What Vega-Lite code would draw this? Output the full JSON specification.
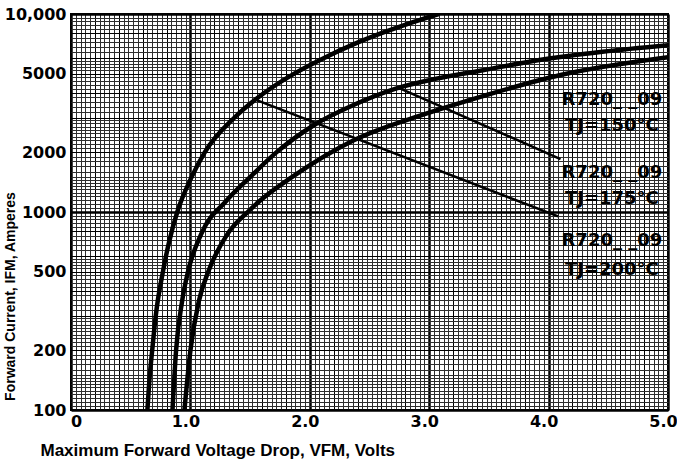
{
  "$schema": "https://vega.github.io/schema/vega-lite/v6.json",
  "width": 597,
  "height": 396,
  "autosize": {"type": "none"},
  "padding": {"left": 71, "right": 9, "top": 14, "bottom": 58},
  "background": "white",
  "config": {"view": {"stroke": "black", "strokeWidth": 2}},
  "datasets": {
    "curves": [
      {"s": "A", "V": 0.64, "I": 100}, {"s": "A", "V": 0.66, "I": 150}, {"s": "A", "V": 0.68, "I": 200}, {"s": "A", "V": 0.71, "I": 300}, {"s": "A", "V": 0.77, "I": 500}, {"s": "A", "V": 0.82, "I": 700}, {"s": "A", "V": 0.89, "I": 1000}, {"s": "A", "V": 1.01, "I": 1500}, {"s": "A", "V": 1.12, "I": 2000}, {"s": "A", "V": 1.37, "I": 3000}, {"s": "A", "V": 1.62, "I": 4000}, {"s": "A", "V": 1.87, "I": 5000}, {"s": "A", "V": 2.12, "I": 6000}, {"s": "A", "V": 2.36, "I": 7000}, {"s": "A", "V": 2.6, "I": 8000}, {"s": "A", "V": 2.84, "I": 9000}, {"s": "A", "V": 3.08, "I": 10000},
      {"s": "B", "V": 0.85, "I": 100}, {"s": "B", "V": 0.88, "I": 200}, {"s": "B", "V": 0.93, "I": 353}, {"s": "B", "V": 0.98, "I": 500}, {"s": "B", "V": 1.09, "I": 773}, {"s": "B", "V": 1.3, "I": 1137}, {"s": "B", "V": 1.5, "I": 1500}, {"s": "B", "V": 1.72, "I": 2000}, {"s": "B", "V": 2.03, "I": 2735}, {"s": "B", "V": 2.38, "I": 3500}, {"s": "B", "V": 2.72, "I": 4200}, {"s": "B", "V": 3.05, "I": 4700}, {"s": "B", "V": 3.45, "I": 5200}, {"s": "B", "V": 3.91, "I": 5840}, {"s": "B", "V": 4.45, "I": 6450}, {"s": "B", "V": 5.0, "I": 6960},
      {"s": "C", "V": 0.95, "I": 100}, {"s": "C", "V": 1.0, "I": 200}, {"s": "C", "V": 1.07, "I": 353}, {"s": "C", "V": 1.15, "I": 500}, {"s": "C", "V": 1.31, "I": 773}, {"s": "C", "V": 1.48, "I": 1000}, {"s": "C", "V": 1.58, "I": 1137}, {"s": "C", "V": 1.85, "I": 1500}, {"s": "C", "V": 2.36, "I": 2290}, {"s": "C", "V": 2.98, "I": 3145}, {"s": "C", "V": 3.45, "I": 3850}, {"s": "C", "V": 4.1, "I": 4920}, {"s": "C", "V": 5.0, "I": 6050}
    ],
    "leaders": [
      {"id": "L1", "V": 1.56, "I": 3660}, {"id": "L1", "V": 4.08, "I": 950},
      {"id": "L2", "V": 2.74, "I": 4250}, {"id": "L2", "V": 4.1, "I": 1850}
    ],
    "labels": [
      {"t": "R720_ _09", "V": 4.53, "I": 3660},
      {"t": "TJ=150°C", "V": 4.53, "I": 2730},
      {"t": "R720_ _09", "V": 4.53, "I": 1580},
      {"t": "TJ=175°C", "V": 4.53, "I": 1165},
      {"t": "R720_ _09", "V": 4.53, "I": 710},
      {"t": "TJ=200°C", "V": 4.53, "I": 512}
    ]
  },
  "encoding": {
    "x": {
      "field": "V", "type": "quantitative",
      "scale": {"domain": [0, 5], "nice": false, "zero": false},
      "axis": {
        "values": [0,0.04,0.08,0.12,0.16,0.2,0.24,0.28,0.32,0.36,0.4,0.44,0.48,0.52,0.56,0.6,0.64,0.68,0.72,0.76,0.8,0.84,0.88,0.92,0.96,1,1.04,1.08,1.12,1.16,1.2,1.24,1.28,1.32,1.36,1.4,1.44,1.48,1.52,1.56,1.6,1.64,1.68,1.72,1.76,1.8,1.84,1.88,1.92,1.96,2,2.04,2.08,2.12,2.16,2.2,2.24,2.28,2.32,2.36,2.4,2.44,2.48,2.52,2.56,2.6,2.64,2.68,2.72,2.76,2.8,2.84,2.88,2.92,2.96,3,3.04,3.08,3.12,3.16,3.2,3.24,3.28,3.32,3.36,3.4,3.44,3.48,3.52,3.56,3.6,3.64,3.68,3.72,3.76,3.8,3.84,3.88,3.92,3.96,4,4.04,4.08,4.12,4.16,4.2,4.24,4.28,4.32,4.36,4.4,4.44,4.48,4.52,4.56,4.6,4.64,4.68,4.72,4.76,4.8,4.84,4.88,4.92,4.96,5],
        "labelExpr": "abs(datum.value - round(datum.value)) < 0.001 ? (datum.value == 0 ? '0' : format(datum.value, '.1f')) : ''",
        "labelFont": "DejaVu Sans", "labelFontWeight": "bold", "labelFontSize": 16, "labelColor": "black",
        "labelPadding": 3, "labelOverlap": false, "labelBound": false, "labelFlush": false,
        "labelOffset": {"condition": {"test": "datum.value == 0", "value": 5}, "value": -5},
        "ticks": false, "domain": false,
        "grid": true,
        "gridColor": {"condition": {"test": "abs(datum.value*5 - round(datum.value*5)) < 0.001", "value": "#000000"}, "value": "#2e2e2e"},
        "gridWidth": {"condition": {"test": "abs(datum.value - round(datum.value)) < 0.001", "value": 2.5}, "value": 1},
        "gridOpacity": 1,
        "title": "Maximum Forward Voltage Drop, VFM, Volts",
        "titleFont": "Liberation Sans", "titleFontWeight": "bold", "titleFontSize": 17, "titleColor": "black",
        "titleAnchor": null, "titleAlign": "left", "titleBaseline": "alphabetic",
        "titleX": -31, "titleY": 45
      }
    },
    "y": {
      "field": "I", "type": "quantitative",
      "scale": {"type": "log", "domain": [100, 10000], "nice": false},
      "axis": {
        "values": [100,105,110,115,120,125,130,135,140,145,150,160,170,180,190,200,210,220,230,240,250,260,270,280,290,300,320,340,360,380,400,420,440,460,480,500,520,540,560,580,600,640,680,720,760,800,840,880,920,960,1000,1050,1100,1150,1200,1250,1300,1350,1400,1450,1500,1600,1700,1800,1900,2000,2100,2200,2300,2400,2500,2600,2700,2800,2900,3000,3200,3400,3600,3800,4000,4200,4400,4600,4800,5000,5200,5400,5600,5800,6000,6400,6800,7200,7600,8000,8400,8800,9200,9600,10000],
        "labelExpr": "indexof([100,200,500,1000,2000,5000,10000], datum.value) >= 0 ? (datum.value == 10000 ? '10,000' : format(datum.value, 'd')) : ''",
        "labelFont": "DejaVu Sans", "labelFontWeight": "bold", "labelFontSize": 16, "labelColor": "black",
        "labelPadding": 5, "labelOverlap": false, "labelBound": false, "labelFlush": false,
        "ticks": false, "domain": false,
        "grid": true,
        "gridColor": {"condition": {"test": "datum.value % (datum.value >= 1000 ? 1000 : 100) == 0", "value": "#000000"}, "value": "#2e2e2e"},
        "gridWidth": {"condition": {"test": "datum.value == 1000 || datum.value == 100 || datum.value == 10000", "value": 2.5}, "value": 1},
        "gridOpacity": 1,
        "title": "Forward Current, IFM, Amperes",
        "titleFont": "Liberation Sans", "titleFontWeight": "bold", "titleFontSize": 14, "titleColor": "black",
        "titleAnchor": null, "titleAlign": "center", "titleBaseline": "middle", "titleAngle": -90,
        "titleX": -61, "titleY": 282
      }
    }
  },
  "layer": [
    {
      "data": {"name": "curves"},
      "mark": {"type": "line", "color": "black", "strokeWidth": 4.5, "interpolate": "monotone", "clip": true},
      "encoding": {"detail": {"field": "s", "type": "nominal"}}
    },
    {
      "data": {"name": "leaders"},
      "mark": {"type": "line", "color": "black", "strokeWidth": 2.5},
      "encoding": {"detail": {"field": "id", "type": "nominal"}}
    },
    {
      "data": {"name": "labels"},
      "mark": {"type": "text", "font": "DejaVu Sans", "fontWeight": "bold", "fontSize": 18, "color": "black", "align": "center", "baseline": "middle"},
      "encoding": {"text": {"field": "t", "type": "nominal"}}
    }
  ]
}
